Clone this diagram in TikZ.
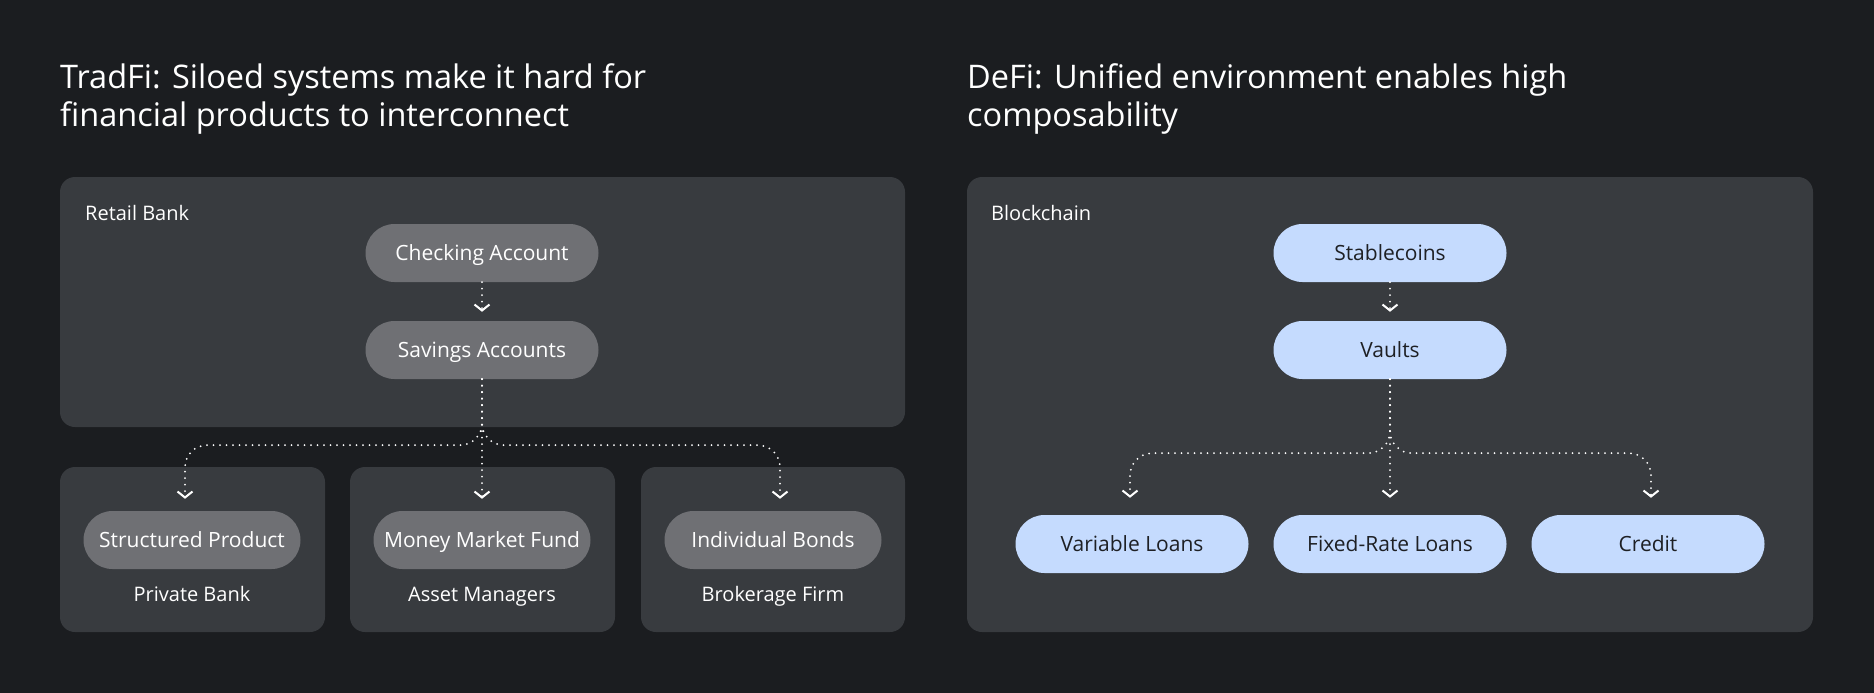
\documentclass[tikz,border=0pt]{standalone}
\usepackage{fontspec}
\setmainfont{Open Sans}
\usepackage{tikz}
\usetikzlibrary{arrows.meta}

\definecolor{bgdark}{HTML}{1B1D20}
\definecolor{boxgray}{HTML}{383B3F}
\definecolor{pillgray}{HTML}{6F7074}
\definecolor{pillblue}{HTML}{C5DBFE}
\definecolor{inkdark}{HTML}{1E2024}

\tikzset{
  panel/.style={fill=boxgray, rounded corners=15pt},
  pill/.style={rectangle, rounded corners=29pt, minimum width=233pt, minimum height=58pt, inner sep=0pt,
    text height=15pt, text depth=0pt, font=\fontsize{21}{24}\selectfont},
  tradpill/.style={pill, fill=pillgray, text=white},
  defipill/.style={pill, fill=pillblue, text=inkdark},
  boxlabel/.style={text=white, inner sep=0pt, text height=14.3pt, text depth=0pt, font=\fontsize{20}{24}\selectfont},
  heading/.style={text=white, inner sep=0pt, anchor=north west, align=left, font=\fontsize{32.5}{38}\selectfont},
  flow/.style={white, line width=2pt, line cap=round, dash pattern=on 0pt off 6.5pt,
    -{Straight Barb[length=6pt,width=15pt,line width=2pt]}},
}

\begin{document}
\begin{tikzpicture}[x=1pt,y=1pt,yscale=-1]
        % background
        \path[fill=bgdark] (0,0) rectangle (1874,693);
        % Text Node
        \node[heading] (tradtitle) at (60,63) {TradFi: Siloed systems make it hard for\\financial products to interconnect};
        % Text Node
        \node[heading] (defititle) at (967,63) {DeFi: Unified environment enables high\\composability};
        % panels
        \fill[panel] (60,177) rectangle (905,427);
        \fill[panel] (60,467) rectangle (325,632);
        \fill[panel] (350,467) rectangle (615,632);
        \fill[panel] (641,467) rectangle (905,632);
        \fill[panel] (967,177) rectangle (1813,632);
        % panel labels
        \node[boxlabel, anchor=west] (retail) at (85,213) {Retail Bank};
        \node[boxlabel, anchor=west] (chain) at (991,213) {Blockchain};
        \node[boxlabel] (privbank) at (192,594) {Private Bank};
        \node[boxlabel] (assetmgr) at (482,594) {Asset Managers};
        \node[boxlabel] (broker) at (773,594) {Brokerage Firm};
        % TradFi products
        \node[tradpill] (ca) at (482,253) {Checking Account};
        \node[tradpill] (sa) at (482,350) {Savings Accounts};
        \node[tradpill, minimum width=217pt] (sp) at (192,540) {Structured Product};
        \node[tradpill, minimum width=217pt] (mm) at (482,540) {Money Market Fund};
        \node[tradpill, minimum width=217pt] (ib) at (773,540) {Individual Bonds};
        % DeFi products
        \node[defipill] (sc) at (1390,253) {Stablecoins};
        \node[defipill] (va) at (1390,350) {Vaults};
        \node[defipill] (vl) at (1132,544) {Variable Loans};
        \node[defipill] (fl) at (1390,544) {Fixed-Rate Loans};
        \node[defipill] (cr) at (1648,544) {Credit};
        % connectors TradFi
        \draw[flow, shorten >=9pt] (ca) -- (sa);
        \draw[flow, shorten >=12pt] (sa.south) -- (mm.north);
        \draw[flow, shorten >=12pt, rounded corners=22pt] (sa.south) -- ++(0,66) -| ([xshift=-7pt]sp.north);
        \draw[flow, shorten >=12pt, rounded corners=22pt] (sa.south) -- ++(0,66) -| ([xshift=7pt]ib.north);
        % connectors DeFi
        \draw[flow, shorten >=9pt] (sc) -- (va);
        \draw[flow, shorten >=17pt] (va.south) -- (fl.north);
        \draw[flow, shorten >=17pt, rounded corners=22pt] (va.south) -- ++(0,74) -| ([xshift=-2pt]vl.north);
        \draw[flow, shorten >=17pt, rounded corners=22pt] (va.south) -- ++(0,74) -| ([xshift=3pt]cr.north);
\end{tikzpicture}
\end{document}
